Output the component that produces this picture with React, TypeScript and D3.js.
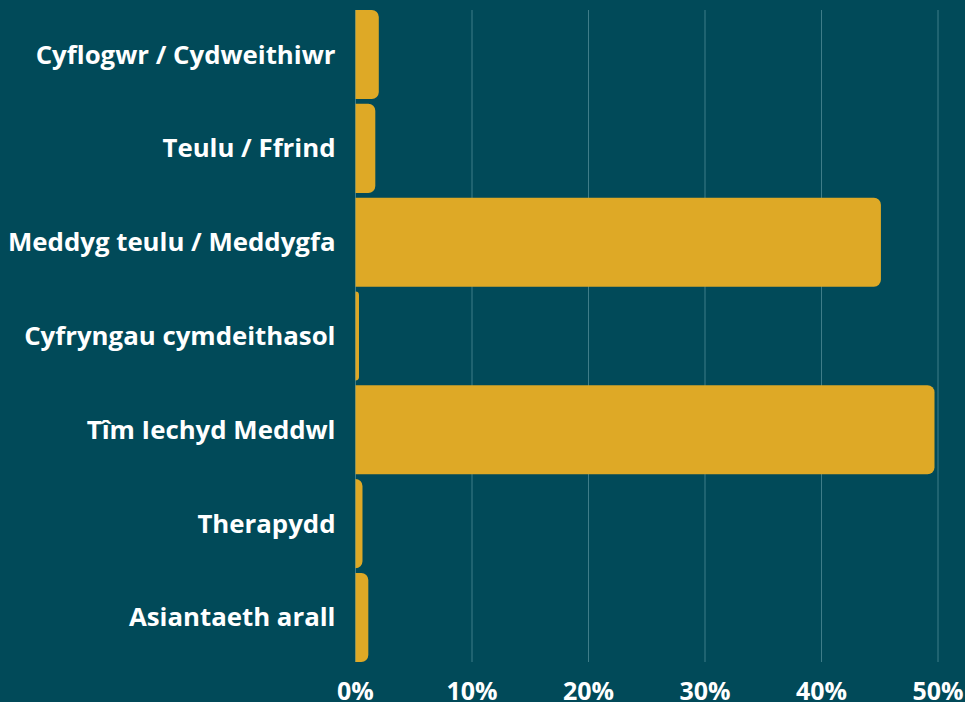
import React, { useEffect, useRef } from 'react';
import * as d3 from 'd3';

const categories = [
  'Cyflogwr / Cydweithiwr',
  'Teulu / Ffrind',
  'Meddyg teulu / Meddygfa',
  'Cyfryngau cymdeithasol',
  'Tîm Iechyd Meddwl',
  'Therapydd',
  'Asiantaeth arall',
];
const values = [2.0, 1.7, 45.1, 0.3, 49.7, 0.6, 1.1];
const ticks = [0, 10, 20, 30, 40, 50];

const WIDTH = 965;
const HEIGHT = 702;
const BG = '#014a59';
const GOLD = '#dea926';

function rightRounded(x: number, y: number, w: number, h: number, r: number) {
  const rr = Math.min(r, w, h / 2);
  return `M${x},${y}H${x + w - rr}A${rr},${rr} 0 0 1 ${x + w},${y + rr}V${y + h - rr}A${rr},${rr} 0 0 1 ${x + w - rr},${y + h}H${x}Z`;
}

export default function App() {
  const svgRef = useRef<SVGSVGElement>(null);

  useEffect(() => {
    const svg = d3.select(svgRef.current);
    svg.selectAll('*').remove();

    const margin = { top: 10, right: 27, bottom: 40, left: 355.5 };

    const x = d3.scaleLinear().domain([0, 50]).range([margin.left, WIDTH - margin.right]);
    const y = d3.scaleBand()
      .domain(categories)
      .range([margin.top, HEIGHT - margin.bottom])
      .paddingInner(0.05)
      .paddingOuter(0);

    svg.append('rect').attr('width', WIDTH).attr('height', HEIGHT).attr('fill', BG);

    // grid
    svg.append('g')
      .selectAll('line')
      .data(ticks)
      .join('line')
      .attr('x1', d => x(d))
      .attr('x2', d => x(d))
      .attr('y1', margin.top)
      .attr('y2', HEIGHT - margin.bottom)
      .attr('stroke', '#3f7d89')
      .attr('stroke-width', 1);

    // bars
    svg.append('g')
      .selectAll('path')
      .data(values)
      .join('path')
      .attr('d', (d, i) => rightRounded(x(0), y(categories[i])!, x(d) - x(0), y.bandwidth(), 7))
      .attr('fill', GOLD);

    // category labels
    svg.append('g')
      .selectAll('text')
      .data(categories)
      .join('text')
      .attr('x', margin.left - 20)
      .attr('y', d => y(d)! + y.bandwidth() / 2)
      .attr('dy', '0.35em')
      .attr('text-anchor', 'end')
      .attr('fill', '#ffffff')
      .style('font-family', '"Open Sans", sans-serif')
      .style('font-weight', 700)
      .style('font-size', '25.8px')
      .text(d => d);

    // tick labels (the bottom edge crops them slightly, as in the original)
    svg.append('g')
      .selectAll('text')
      .data(ticks)
      .join('text')
      .attr('x', d => x(d))
      .attr('y', 700)
      .attr('text-anchor', 'middle')
      .attr('fill', '#ffffff')
      .style('font-family', '"Open Sans", sans-serif')
      .style('font-weight', 700)
      .style('font-size', '25px')
      .text(d => `${d}%`);
  }, []);

  return (
    <div style={{ position: 'fixed', left: 0, top: 0, width: WIDTH, height: HEIGHT }}>
      <svg ref={svgRef} width={WIDTH} height={HEIGHT} style={{ display: 'block' }} />
    </div>
  );
}
